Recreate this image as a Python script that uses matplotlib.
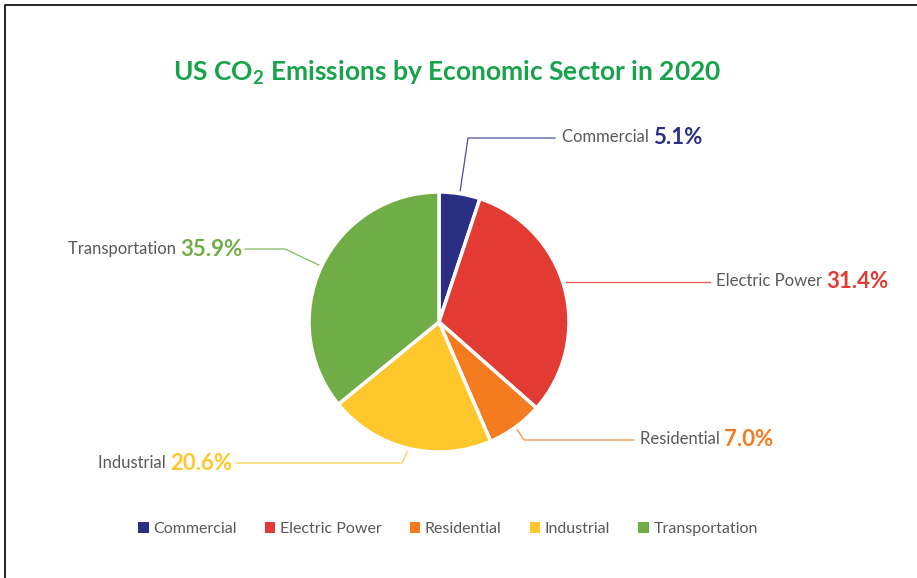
import matplotlib.pyplot as plt
import numpy as np
from matplotlib.patches import Patch

# Data
sectors = ["Commercial", "Electric Power", "Residential", "Industrial", "Transportation"]
shares = [5.1, 31.4, 7.0, 20.6, 35.9]
colors = ["#2B2F84", "#E23B33", "#F47B20", "#FFC72C", "#70AD47"]

W, H = 917, 578
plt.rcParams['font.family'] = ['Lato', 'DejaVu Sans']

fig = plt.figure(figsize=(W / 100, H / 100), dpi=100)
ax = fig.add_axes([0, 0, 1, 1])

cx, cy, r = 439, H - 322, 130
wedges, _ = ax.pie(shares, colors=colors, center=(cx, cy), radius=r,
                   startangle=90, counterclock=False,
                   wedgeprops=dict(edgecolor='white', linewidth=2.5))
ax.set_xlim(0, W)
ax.set_ylim(0, H)
ax.set_aspect('auto')
ax.axis('off')

# figure border (top and left only visible)
ax.plot([5, 5, W], [0, H - 5, H - 5], color='black', linewidth=1.2, clip_on=False)

# Title
fig.text(447 / W, 1 - 73 / H, r"US CO$_\mathregular{2}$ Emissions by Economic Sector in 2020",
         ha='center', va='center', fontsize=19, fontweight='bold', color='#16A34A')

# leader line elbows / ends and label anchors (pixel coords, y from top)
elbows = [(468, 138), (566, 282), (524, 440), (402, 463), (285, 249)]
line_ends = [(555, 138), (710, 282), (634, 440), (236, 463), (245, 249)]
label_x = [562, 716, 640, 232, 242]
label_y = [137, 281, 439, 463, 249]
sides = ['right', 'right', 'right', 'left', 'left']

renderer = fig.canvas.get_renderer()
for w, name, val, col, el, le, lx, ly, side in zip(
        wedges, sectors, shares, colors, elbows, line_ends, label_x, label_y, sides):
    mid = np.deg2rad((w.theta1 + w.theta2) / 2)
    sx = cx + (r + 3) * np.cos(mid)
    sy = cy + (r + 3) * np.sin(mid)
    if name == "Electric Power":
        sy = H - el[1]
    ax.plot([sx, el[0], le[0]], [sy, H - el[1], H - le[1]], color=col, linewidth=0.9, alpha=0.85)
    pct = f"{val:.1f}%"
    if side == 'right':
        t = ax.text(lx, H - ly, name + " ", ha='left', va='center', fontsize=12, color='#595959')
        bb = t.get_window_extent(renderer)
        ax.text(bb.x1, H - ly, pct, ha='left', va='center', fontsize=16,
                fontweight='bold', color=col)
    else:
        t = ax.text(lx, H - ly, pct, ha='right', va='center', fontsize=16,
                    fontweight='bold', color=col)
        bb = t.get_window_extent(renderer)
        ax.text(bb.x0, H - ly, name + " ", ha='right', va='center', fontsize=12, color='#595959')

# Legend
handles = [Patch(facecolor=c, edgecolor='none', label=s) for s, c in zip(sectors, colors)]
fig.legend(handles=handles, loc='center', bbox_to_anchor=(448 / W, 1 - 529 / H), ncol=5,
           frameon=False, fontsize=11.5, labelcolor='#595959', handlelength=0.65,
           handleheight=0.65, handletextpad=0.3, columnspacing=1.75)

fig.savefig("out.png", dpi=100)
